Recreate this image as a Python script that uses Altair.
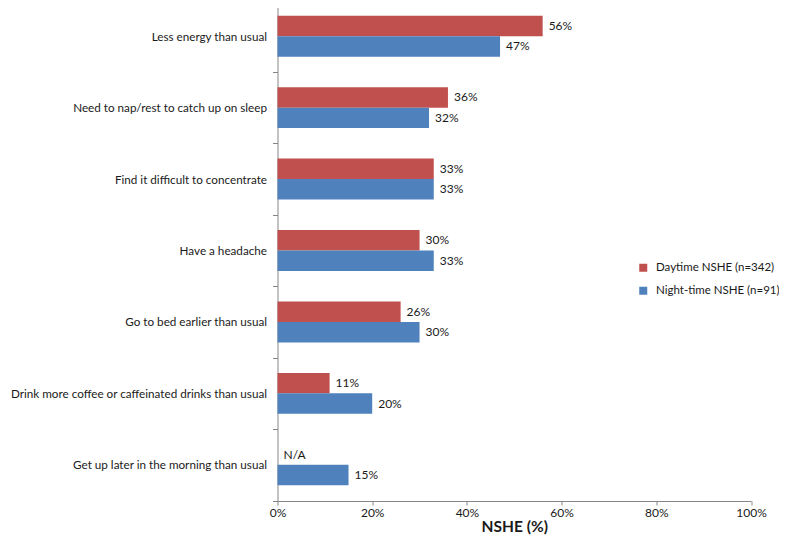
import altair as alt
import pandas as pd

categories = [
    "Less energy than usual",
    "Need to nap/rest to catch up on sleep",
    "Find it difficult to concentrate",
    "Have a headache",
    "Go to bed earlier than usual",
    "Drink more coffee or caffeinated drinks than usual",
    "Get up later in the morning than usual",
]
series = ["Daytime NSHE (n=342)", "Night-time NSHE (n=91)"]
daytime = [56, 36, 33, 30, 26, 11, None]
nighttime = [47, 32, 33, 33, 30, 20, 15]
colors = ["#C0504D", "#4F81BD"]
x_ticks = [0, 20, 40, 60, 80, 100]

rows = []
for c, d, n in zip(categories, daytime, nighttime):
    rows.append({"cat": c, "series": series[0], "value": d if d is not None else 0,
                 "has": d is not None, "label": f"{d}%" if d is not None else "N/A"})
    rows.append({"cat": c, "series": series[1], "value": n, "has": True, "label": f"{n}%"})
df = pd.DataFrame(rows)

FONT = "Lato"

y_enc = alt.Y("cat:N", sort=categories,
              scale=alt.Scale(range=[-7.5, 492.5], paddingInner=0, paddingOuter=0),
              axis=alt.Axis(title=None, tickBand="extent", domainColor="#868686", tickColor="#868686",
                            tickSize=5, labelPadding=6, labelFont=FONT, labelFontSize=11.7,
                            labelColor="#1a1a1a", labelLimit=300))
yoff = alt.YOffset("series:N", sort=series,
                   scale=alt.Scale(domain=series, paddingInner=0, paddingOuter=0.744))
x_enc = alt.X("value:Q", scale=alt.Scale(domain=[0, 100]),
              axis=alt.Axis(title="NSHE (%)", values=x_ticks, labelExpr="datum.value + '%'",
                            domainColor="#868686", tickColor="#868686", tickSize=4,
                            labelFlush=False, labelFont=FONT, labelFontSize=12, labelColor="#1a1a1a",
                            labelPadding=2, titleFont=FONT, titleFontSize=15.5, titleFontWeight="bold",
                            titleColor="#1a1a1a", titlePadding=1, grid=False))

bars = alt.Chart(df).transform_filter("datum.has").mark_bar().encode(
    y=y_enc, yOffset=yoff, x=x_enc,
    color=alt.Color("series:N", sort=series,
                    scale=alt.Scale(domain=series, range=colors),
                    legend=alt.Legend(title=None, orient="none", legendX=360, legendY=254,
                                      symbolType="square", symbolSize=64, symbolStrokeWidth=0,
                                      labelFont=FONT, labelFontSize=11.5, labelColor="#1a1a1a",
                                      labelOffset=7, rowPadding=10, padding=0, labelLimit=200)),
)

texts = alt.Chart(df).mark_text(align="left", baseline="middle", dx=6, font=FONT,
                                fontSize=12, color="#1a1a1a").encode(
    y=alt.Y("cat:N", sort=categories), yOffset=alt.YOffset("series:N", sort=series),
    x="value:Q", text="label:N",
)

chart = alt.layer(bars, texts).properties(
    width=473.5, height=493,
    autosize=alt.AutoSizeParams(type="none"),
    padding={"left": 269.5, "top": 0, "right": 28, "bottom": 36},
).configure_view(stroke=None)

chart.save("out.html", embed_options={"renderer": "svg", "actions": False})
